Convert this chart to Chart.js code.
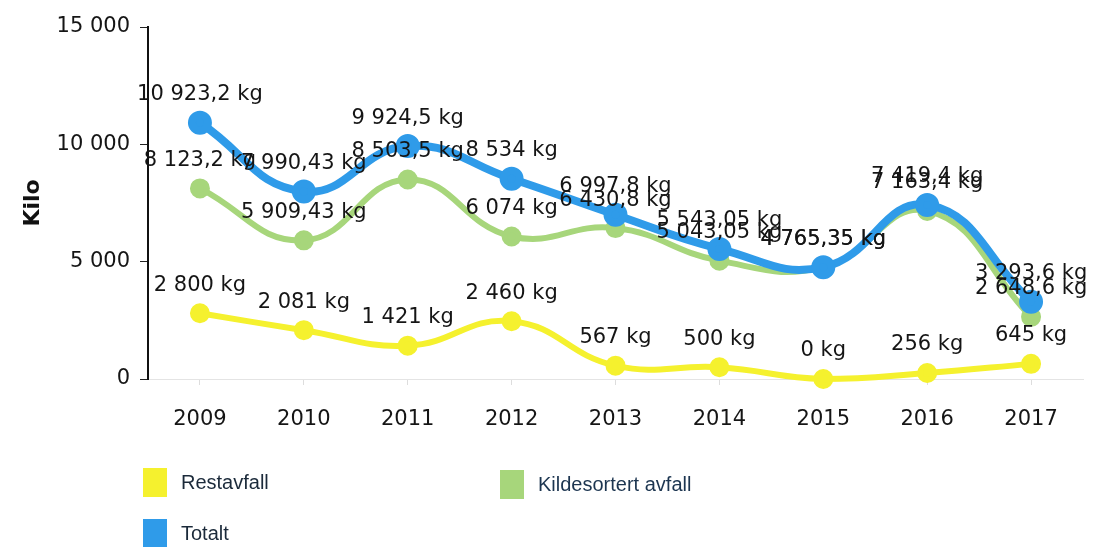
<!DOCTYPE html>
<html>
<head>
<meta charset="utf-8">
<script src="https://cdn.jsdelivr.net/npm/chart.js@4"></script>
<style>
  html, body { margin: 0; padding: 0; background: #fff; }
  #wrap { position: relative; width: 1099px; height: 547px; }
  .leg { position: absolute; font-family: "Liberation Sans", Arial, sans-serif; font-size: 20px; color: #1b2a3a; display: flex; align-items: center; }
  .leg span.box { display: inline-block; width: 24px; height: 29px; margin-right: 14px; }
</style>
</head>
<body>
<div id="wrap">
  <canvas id="chart" width="1099" height="547"></canvas>
  <div class="leg" style="left:143px; top:468px;"><span class="box" style="background:#f5f12e"></span>Restavfall</div>
  <div class="leg" style="left:500px; top:470px; color:#1c3550;"><span class="box" style="background:#a7d67b"></span>Kildesortert avfall</div>
  <div class="leg" style="left:143px; top:519px;"><span class="box" style="background:#2f9be9"></span>Totalt</div>
</div>
<script>
const years = ["2009", "2010", "2011", "2012", "2013", "2014", "2015", "2016", "2017"];
const restavfall = [2800, 2081, 1421, 2460, 567, 500, 0, 256, 645];
const kildesortert = [8123.2, 5909.43, 8503.5, 6074, 6430.8, 5043.05, 4765.35, 7163.4, 2648.6];
const totalt = [10923.2, 7990.43, 9924.5, 8534, 6997.8, 5543.05, 4765.35, 7419.4, 3293.6];
const yTicks = [0, 5000, 10000, 15000];

function fmt(v) {
    const parts = String(v).split(".");
    const whole = parts[0].replace(/\B(?=(\d{3})+(?!\d))/g, " ");
    return parts[1] ? whole + "," + parts[1] : whole;
}

// draws "x kg" above every point
const pointLabels = {
    id: "pointLabels",
    afterDatasetsDraw(chart) {
        const ctx = chart.ctx;
        ctx.save();
        ctx.font = "21px 'DejaVu Sans'";
        ctx.fillStyle = "#151515";
        ctx.textAlign = "center";
        ctx.textBaseline = "middle";
        chart.data.datasets.forEach((ds, i) => {
            chart.getDatasetMeta(i).data.forEach((pt, j) => {
                ctx.fillText(fmt(ds.data[j]) + " kg", pt.x, pt.y - 28);
            });
        });
        ctx.restore();
    }
};

new Chart(document.getElementById("chart").getContext("2d"), {
    type: "line",
    data: {
        labels: years,
        datasets: [
            {
                label: "Totalt",
                data: totalt,
                borderColor: "#2f9be9",
                backgroundColor: "#2f9be9",
                borderWidth: 8,
                pointRadius: 8,
                tension: 0.45,
                clip: false
            },
            {
                label: "Kildesortert avfall",
                data: kildesortert,
                borderColor: "#a7d67b",
                backgroundColor: "#a7d67b",
                borderWidth: 6,
                pointRadius: 7,
                tension: 0.45,
                clip: false
            },
            {
                label: "Restavfall",
                data: restavfall,
                borderColor: "#f5f12e",
                backgroundColor: "#f5f12e",
                borderWidth: 6,
                pointRadius: 7,
                tension: 0.45,
                clip: false
            }
        ]
    },
    options: {
        responsive: false,
        animation: false,
        layout: { padding: { top: 27, right: 6, bottom: 108, left: 0 } },
        plugins: {
            legend: { display: false },
            tooltip: { enabled: false }
        },
        scales: {
            x: {
                offset: true,
                afterFit(scale) { scale.height = 60; },
                grid: { display: true, drawOnChartArea: false, offset: false, drawTicks: true, tickLength: 6, color: "#ddd" },
                border: { display: true, color: "#e4e4e4", width: 1 },
                ticks: { padding: 22, color: "#151515", font: { family: "DejaVu Sans", size: 21 } }
            },
            y: {
                min: 0,
                max: 15000,
                afterFit(scale) { scale.width = 148; },
                afterBuildTicks(scale) { scale.ticks = yTicks.map(v => ({ value: v })); },
                grid: { drawOnChartArea: false, drawTicks: true, tickLength: 8, color: "#222" },
                border: { display: true, color: "#111", width: 2 },
                ticks: {
                    padding: 10,
                    color: "#151515",
                    font: { family: "DejaVu Sans", size: 21 },
                    callback: v => fmt(v)
                },
                title: {
                    display: true,
                    text: "Kilo",
                    color: "#111",
                    padding: { top: 20, bottom: 0 },
                    font: { family: "DejaVu Sans", size: 22, weight: "bold" }
                }
            }
        }
    },
    plugins: [pointLabels]
});
</script>
</body>
</html>
